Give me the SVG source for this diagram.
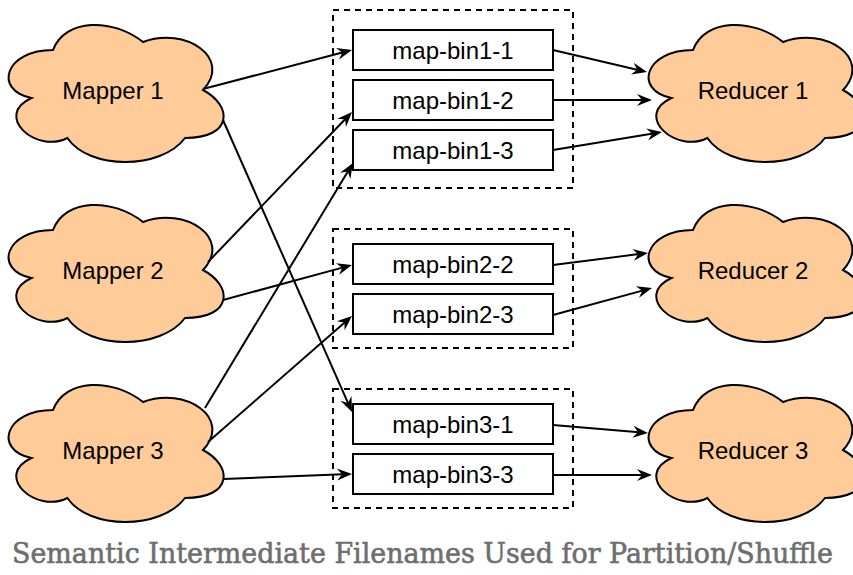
<svg xmlns="http://www.w3.org/2000/svg" xmlns:xlink="http://www.w3.org/1999/xlink" width="853" height="575" viewBox="0 0 853 575">
  <style>
    .cloud { fill: #FFCC99; stroke: #000; stroke-width: 2; }
    .box { fill: #fff; stroke: #000; stroke-width: 2; }
    .group { fill: none; stroke: #000; stroke-width: 2; stroke-dasharray: 6 5; }
    .label { font-family: "Liberation Sans", Arial, sans-serif; font-size: 24px; fill: #000; text-anchor: middle; }
    .edge { fill: none; stroke: #000; stroke-width: 2; marker-end: url(#arrow); }
    .caption { font-family: "DejaVu Serif", "Liberation Serif", serif; font-size: 27px; fill: #6e6e6e; stroke: #6e6e6e; stroke-width: 0.6; text-anchor: middle; }
  </style>
  <defs>
    <!-- cloud outline in a 240x160 box -->
    <path id="cloudShape" class="cloud" d="M60,40 C12,40 0,80 38.4,88 C0,105.6 43.2,144 74.4,128 C96,160 168,160 192,128 C240,128 240,96 210,80 C240,48 192,16 150,32 C120,8 72,8 60,40 Z"/>
    <marker id="arrow" markerUnits="userSpaceOnUse" viewBox="-16 -8 18 16" refX="-9" refY="0" markerWidth="18" markerHeight="16" orient="auto">
      <path d="M0,0 L-15,-6 L-10,0 L-15,6 Z" fill="#000"/>
    </marker>
  </defs>

  <rect width="853" height="575" fill="#fff"/>

  <!-- dashed partition groups -->
  <g id="groups">
    <rect class="group" x="333" y="10" width="240" height="178"/>
    <rect class="group" x="333" y="229" width="240" height="119"/>
    <rect class="group" x="333" y="389" width="240" height="119"/>
  </g>

  <!-- mappers -->
  <g id="mapper1">
    <use xlink:href="#cloudShape" x="-7" y="10"/>
    <text class="label" x="113" y="99">Mapper 1</text>
  </g>
  <g id="mapper2">
    <use xlink:href="#cloudShape" x="-7" y="190"/>
    <text class="label" x="113" y="279">Mapper 2</text>
  </g>
  <g id="mapper3">
    <use xlink:href="#cloudShape" x="-7" y="370"/>
    <text class="label" x="113" y="459">Mapper 3</text>
  </g>

  <!-- reducers -->
  <g id="reducer1">
    <use xlink:href="#cloudShape" x="633" y="10"/>
    <text class="label" x="753" y="99">Reducer 1</text>
  </g>
  <g id="reducer2">
    <use xlink:href="#cloudShape" x="633" y="190"/>
    <text class="label" x="753" y="279">Reducer 2</text>
  </g>
  <g id="reducer3">
    <use xlink:href="#cloudShape" x="633" y="370"/>
    <text class="label" x="753" y="459">Reducer 3</text>
  </g>

  <!-- intermediate files -->
  <g id="bin1-1">
    <rect class="box" x="353" y="30" width="200" height="40"/>
    <text class="label" x="453" y="59">map-bin1-1</text>
  </g>
  <g id="bin1-2">
    <rect class="box" x="353" y="80" width="200" height="40"/>
    <text class="label" x="453" y="109">map-bin1-2</text>
  </g>
  <g id="bin1-3">
    <rect class="box" x="353" y="130" width="200" height="40"/>
    <text class="label" x="453" y="159">map-bin1-3</text>
  </g>
  <g id="bin2-2">
    <rect class="box" x="353" y="244" width="200" height="40"/>
    <text class="label" x="453" y="273">map-bin2-2</text>
  </g>
  <g id="bin2-3">
    <rect class="box" x="353" y="294" width="200" height="40"/>
    <text class="label" x="453" y="323">map-bin2-3</text>
  </g>
  <g id="bin3-1">
    <rect class="box" x="353" y="404" width="200" height="40"/>
    <text class="label" x="453" y="433">map-bin3-1</text>
  </g>
  <g id="bin3-3">
    <rect class="box" x="353" y="454" width="200" height="40"/>
    <text class="label" x="453" y="483">map-bin3-3</text>
  </g>

  <!-- connectors -->
  <g id="edges">
    <path class="edge" d="M203,89 L343.3,52.3"/>
    <path class="edge" d="M223,120 L348.4,403.8"/>
    <path class="edge" d="M208,262 L345.8,118.5"/>
    <path class="edge" d="M223,300 L343.3,267.4"/>
    <path class="edge" d="M205,408 L348.3,170.7"/>
    <path class="edge" d="M208,442 L345.2,321.9"/>
    <path class="edge" d="M223,479 L343,474.3"/>
    <path class="edge" d="M553,50 L638.2,70"/>
    <path class="edge" d="M553,100 L643,100"/>
    <path class="edge" d="M553,150 L653.1,133.5"/>
    <path class="edge" d="M553,265 L639.1,254.1"/>
    <path class="edge" d="M553,315 L643.3,290.4"/>
    <path class="edge" d="M553,425 L639,432.2"/>
    <path class="edge" d="M553,475 L643,475"/>
  </g>

  <text class="caption" x="422.5" y="563" textLength="821" lengthAdjust="spacingAndGlyphs">Semantic Intermediate Filenames Used for Partition/Shuffle</text>
</svg>
